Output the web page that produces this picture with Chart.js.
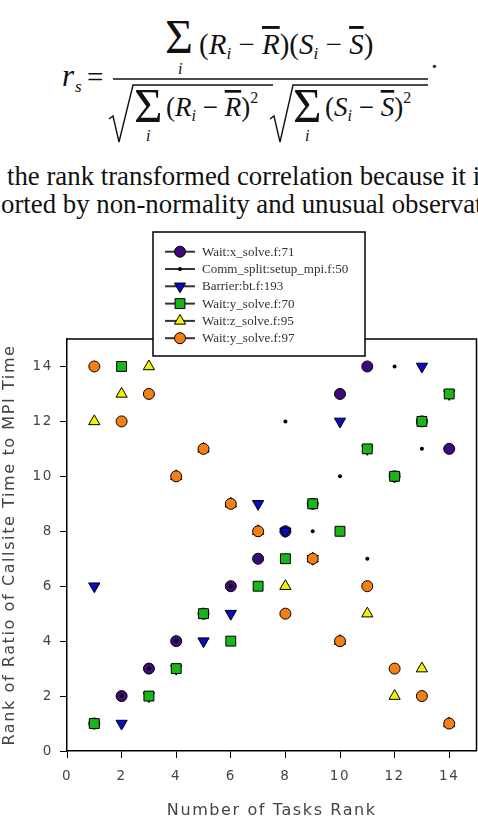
<!DOCTYPE html>
<html>
<head>
<meta charset="utf-8">
<script src="https://cdn.jsdelivr.net/npm/chart.js@4.4.1/dist/chart.umd.min.js"></script>
<style>
  html, body { margin: 0; padding: 0; background: #fff; overflow: hidden; }
  #wrap { position: relative; width: 478px; height: 820px; }
  #formula { position: absolute; left: 0; top: 0; }
  #grafico { position: absolute; left: 0; top: 0; }
</style>
</head>
<body>
<div id="wrap">
  <svg id="formula" width="478" height="225" font-family="Liberation Serif, Times New Roman, serif" fill="#111">
    <text x="62" y="86" font-size="31" font-style="italic">r</text>
    <text x="75" y="92" font-size="17" font-style="italic">s</text>
    <text x="87" y="87" font-size="29">=</text>
    <line x1="113" y1="79" x2="428" y2="79" stroke="#111" stroke-width="1.4"/>

    <text x="165" y="53" font-size="48">Σ</text>
    <text x="178" y="74" font-size="16" font-style="italic">i</text>
    <text x="199" y="54" font-size="29">(<tspan font-style="italic">R</tspan><tspan font-size="17" font-style="italic" dy="5">i</tspan><tspan dy="-5"> − </tspan><tspan font-style="italic" text-decoration="overline">R</tspan>)(<tspan font-style="italic">S</tspan><tspan font-size="17" font-style="italic" dy="5">i</tspan><tspan dy="-5"> − </tspan><tspan font-style="italic" text-decoration="overline">S</tspan>)</text>

    <path d="M109,119 L113,116 L119,142 L133,85 L273,85" fill="none" stroke="#111" stroke-width="1.4"/>
    <text x="134" y="122" font-size="49">Σ</text>
    <text x="146" y="141" font-size="16" font-style="italic">i</text>
    <text x="166" y="116" font-size="27">(<tspan font-style="italic">R</tspan><tspan font-size="16" font-style="italic" dy="5">i</tspan><tspan dy="-5"> − </tspan><tspan font-style="italic" text-decoration="overline">R</tspan>)<tspan font-size="16" dy="-13">2</tspan></text>

    <path d="M270,119 L274,116 L280,142 L293,85 L428,85" fill="none" stroke="#111" stroke-width="1.4"/>
    <text x="293" y="122" font-size="49">Σ</text>
    <text x="305" y="141" font-size="16" font-style="italic">i</text>
    <text x="325" y="116" font-size="27">(<tspan font-style="italic">S</tspan><tspan font-size="16" font-style="italic" dy="5">i</tspan><tspan dy="-5"> − </tspan><tspan font-style="italic" text-decoration="overline">S</tspan>)<tspan font-size="16" dy="-13">2</tspan></text>
    <text x="431" y="68" font-size="27">.</text>

    <text x="7" y="185" font-size="26.8">the rank transformed correlation because it is</text>
    <text x="1" y="213" font-size="26.8">orted by non-normality and unusual observations</text>
  </svg>
  <canvas id="grafico" width="478" height="820"></canvas>
</div>
<script>
// rank of task count (x) and rank of callsite/MPI time ratio (y) per callsite
const tasksRank = [1, 2, 3, 4, 5, 6, 7, 8, 9, 10, 11, 12, 13, 14];
const waitXSolve71 = [1, 2, 3, 4, 5, 6, 7, 8, 9, 13, 14, 10, 12, 11];
const commSplit50 = [1, 2, 3, 4, 5, 6, 9, 12, 8, 10, 7, 14, 11, 13];
const barrierBt193 = [6, 1, 2, 3, 4, 5, 9, 8, 7, 12, 11, 10, 14, 13];
const waitYSolve70 = [1, 14, 2, 3, 5, 4, 6, 7, 9, 8, 11, 10, 12, 13];
const waitZSolve95 = [12, 13, 14, 10, 11, 9, 8, 6, 7, 4, 5, 2, 3, 1];
const waitYSolve97 = [14, 12, 13, 10, 11, 9, 8, 5, 7, 4, 6, 3, 2, 1];
const tickValues = [0, 2, 4, 6, 8, 10, 12, 14];

const series = [
    { label: "Wait:x_solve.f:71", data: waitXSolve71, style: "circle", color: "#3d0a7a", radius: 5.5 },
    { label: "Comm_split:setup_mpi.f:50", data: commSplit50, style: "circle", color: "#000000", radius: 2 },
    { label: "Barrier:bt.f:193", data: barrierBt193, style: "triangle", color: "#0a0ac8", radius: 6.5, rotation: 180 },
    { label: "Wait:y_solve.f:70", data: waitYSolve70, style: "rect", color: "#19b519", radius: 7 },
    { label: "Wait:z_solve.f:95", data: waitZSolve95, style: "triangle", color: "#f2f200", radius: 6.5 },
    { label: "Wait:y_solve.f:97", data: waitYSolve97, style: "circle", color: "#f57f14", radius: 5.5 }
];

function marker(ctx, s, x, y) {
    ctx.save();
    ctx.fillStyle = s.color;
    ctx.strokeStyle = "#000";
    ctx.lineWidth = 1;
    ctx.beginPath();
    const r = s.radius;
    if (s.style === "rect") {
        const h = r * Math.SQRT1_2;
        ctx.rect(x - h, y - h, 2 * h, 2 * h);
    } else if (s.style === "triangle") {
        const d = s.rotation ? -1 : 1;
        ctx.moveTo(x, y - d * r);
        ctx.lineTo(x + r * 0.866, y + d * r * 0.5);
        ctx.lineTo(x - r * 0.866, y + d * r * 0.5);
        ctx.closePath();
    } else {
        ctx.arc(x, y, r, 0, Math.PI * 2);
    }
    ctx.fill();
    if (s.radius > 3) ctx.stroke();
    ctx.restore();
}

const quadro = {
    id: "quadro",
    beforeDraw(chart) {
        // wide spacing of the axis font in the original
        chart.ctx.letterSpacing = "1.6px";
    },
    beforeDatasetsDraw(chart) {
        const { ctx, chartArea: a } = chart;
        ctx.save();
        ctx.strokeStyle = "#000";
        ctx.lineWidth = 1.5;
        ctx.beginPath();
        ctx.moveTo(a.left, a.top);
        ctx.lineTo(a.right, a.top);
        ctx.lineTo(a.right, a.bottom);
        ctx.stroke();
        ctx.restore();
    },
    afterDraw(chart) {
        const ctx = chart.ctx;
        ctx.save();
        ctx.letterSpacing = "0px";
        ctx.fillStyle = "#fff";
        ctx.fillRect(153, 232, 212, 124);
        ctx.strokeStyle = "#000";
        ctx.lineWidth = 1.5;
        ctx.strokeRect(153, 232, 212, 124);
        ctx.font = "13px 'Liberation Serif', serif";
        ctx.textBaseline = "middle";
        series.forEach((s, i) => {
            const y = 251.7 + i * 17.3;
            ctx.strokeStyle = "#333";
            ctx.lineWidth = 2;
            ctx.beginPath();
            ctx.moveTo(165, y);
            ctx.lineTo(195, y);
            ctx.stroke();
            marker(ctx, s, 180, y);
            ctx.fillStyle = "#333";
            ctx.fillText(s.label, 202, y + 0.5);
        });
        ctx.restore();
    }
};

const eixoFonte = { family: "'DejaVu Sans', sans-serif", size: 13.5 };
const tituloFonte = { family: "'DejaVu Sans', sans-serif", size: 16 };
const soPares = scale => { scale.ticks = tickValues.map(v => ({ value: v })); };

new Chart(document.getElementById("grafico"), {
    type: "scatter",
    data: {
        datasets: series.map((s, i) => ({
            label: s.label,
            data: s.data.map((v, k) => ({ x: tasksRank[k], y: v })),
            pointStyle: s.style,
            pointRadius: s.radius,
            pointRotation: s.rotation || 0,
            backgroundColor: s.color,
            borderColor: "#000",
            pointBorderWidth: s.radius > 3 ? 1 : 0,
            order: series.length - i
        }))
    },
    plugins: [quadro],
    options: {
        responsive: false,
        animation: false,
        layout: { autoPadding: false, padding: { top: 339, right: 1.5, left: 0, bottom: 0 } },
        plugins: { legend: { display: false }, tooltip: { enabled: false } },
        scales: {
            x: {
                type: "linear",
                min: 0,
                max: 15,
                afterBuildTicks: soPares,
                afterFit: s => { s.height = 69; },
                ticks: { font: eixoFonte, color: "#444", padding: 10 },
                grid: { drawOnChartArea: false, drawTicks: true, tickLength: 7, color: "#000" },
                border: { display: true, color: "#000", width: 1.5 },
                title: { display: true, text: "Number of Tasks Rank", font: tituloFonte, color: "#444", padding: 0 }
            },
            y: {
                type: "linear",
                min: 0,
                max: 15,
                afterBuildTicks: soPares,
                afterFit: s => { s.width = 67; },
                ticks: { font: eixoFonte, color: "#444", padding: 7 },
                grid: { drawOnChartArea: false, drawTicks: true, tickLength: 7, color: "#000" },
                border: { display: true, color: "#000", width: 1.5 },
                title: { display: true, text: "Rank of Ratio of Callsite Time to MPI Time", font: tituloFonte, color: "#444", padding: 0 }
            }
        }
    }
});
</script>
</body>
</html>
